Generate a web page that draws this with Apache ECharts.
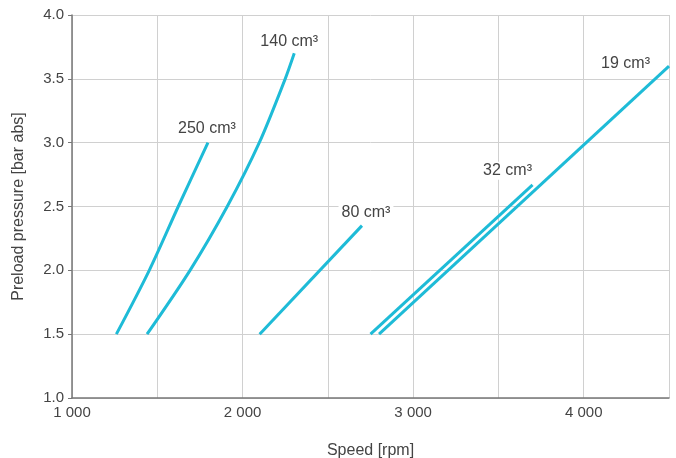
<!DOCTYPE html>
<html><head><meta charset="utf-8">
<script src="https://cdn.jsdelivr.net/npm/echarts@6/dist/echarts.min.js"></script>
<style>html,body{margin:0;padding:0;background:#fff}#c{width:676px;height:458px}</style>
</head><body><div id="c"></div>
<script>
const xTicks = [1000, 2000, 3000, 4000];
const names = ['250 cm³', '140 cm³', '80 cm³', '32 cm³', '19 cm³'];
const s250 = [[1260, 1.5], [1453, 2.0], [1623, 2.5], [1797, 3.0]];
const s140 = [[1440, 1.5], [1692, 2.0], [1910, 2.5], [2098, 3.0], [2250, 3.5], [2303, 3.7]];
const s80 = [[2100, 1.5], [2700, 2.35]];
const s32 = [[2750, 1.5], [3700, 2.67]];
const s19 = [[2800, 1.5], [4500, 3.6]];
const allSeries = [s250, s140, s80, s32, s19];
const labelCfg = [
  {position: 'top', distance: 5, offset: [-1, 0]},
  {position: 'top', distance: 3, offset: [-5, 0]},
  {position: 'top', distance: 4, offset: [4, 0]},
  {position: 'top', distance: 5, offset: [-25, 0]},
  {position: 'left', distance: 16, offset: [0, -2]}
];
const font = 'Liberation Sans';
const chart = echarts.init(document.getElementById('c'));
chart.setOption({
  animation: false,
  grid: {left: 72, right: 7, top: 15, bottom: 60, containLabel: false, outerBoundsMode: 'none'},
  xAxis: {
    type: 'value', min: 1000, max: 4500, interval: 500,
    name: 'Speed [rpm]', nameLocation: 'middle', nameGap: 45,
    nameTextStyle: {color: '#444', fontSize: 16, fontFamily: font},
    axisLine: {lineStyle: {color: '#777', width: 1.5}},
    axisTick: {show: false},
    splitLine: {show: true, lineStyle: {color: '#d0d0d0', width: 1}},
    axisLabel: {color: '#444', fontSize: 15, fontFamily: font, margin: 7,
      formatter: v => xTicks.includes(v) ? String(v).replace(/(\d)(\d{3})$/, '$1 $2') : ''}
  },
  yAxis: {
    type: 'value', min: 1.0, max: 4.0, interval: 0.5,
    name: 'Preload pressure [bar abs]', nameLocation: 'middle', nameGap: 45,
    nameTextStyle: {color: '#444', fontSize: 16, fontFamily: font},
    axisLine: {show: true, lineStyle: {color: '#777', width: 1.5}},
    axisTick: {show: true, length: 4, lineStyle: {color: '#777'}},
    splitLine: {show: true, lineStyle: {color: '#d0d0d0', width: 1}},
    axisLabel: {color: '#444', fontSize: 15, fontFamily: font, margin: 8,
      formatter: v => v.toFixed(1)}
  },
  series: allSeries.map((d, i) => ({
    type: 'line', smooth: d.length > 2 ? 0.3 : false,
    symbol: 'circle', symbolSize: 0, showSymbol: true, showAllSymbol: true,
    itemStyle: {color: 'rgba(0,0,0,0)'},
    lineStyle: {color: '#1ebbd7', width: 3},
    label: {show: false},
    z: 3,
    data: d.map((p, j) => j === d.length - 1 ? {
      value: p,
      label: Object.assign({show: true, formatter: names[i], color: '#444', fontSize: 16,
        fontFamily: font, backgroundColor: '#fff', padding: [1, 3]}, labelCfg[i])
    } : p)
  }))
});
</script></body></html>
